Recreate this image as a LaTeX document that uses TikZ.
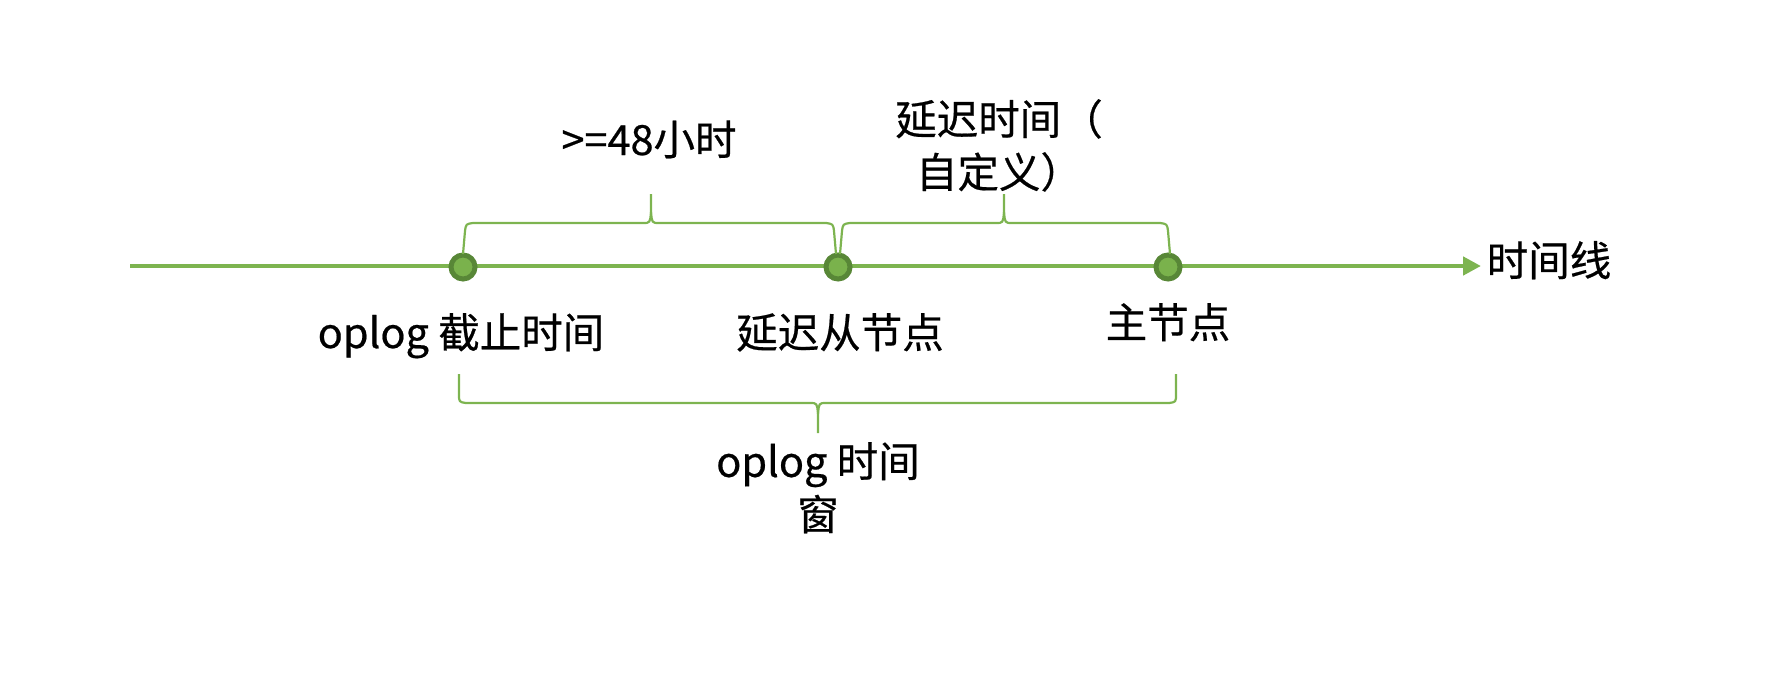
\documentclass[tikz,border=0pt]{standalone}
\usepackage{fontspec}
\setmainfont{Noto Sans CJK SC}[UprightFeatures={FakeBold=0.5}]
\usetikzlibrary{arrows.meta}
\definecolor{lgreen}{RGB}{125,180,80}
\definecolor{dgreen}{RGB}{88,135,55}
\definecolor{fgreen}{RGB}{122,178,76}
\tikzset{
  dot/.style={circle,draw=dgreen,fill=fgreen,line width=5pt,minimum size=24pt,inner sep=0pt},
  lbl/.style={inner sep=0pt,anchor=base,font=\fontsize{41.5}{53}\selectfont,align=center},
  bracepath/.style={draw=lgreen,line width=2.2pt,line join=round},
  timeline/.style={draw=lgreen,line width=4.5pt,-{Triangle[length=18pt,width=18pt]}}
}
\begin{document}
\begin{tikzpicture}[x=1pt,y=-1pt]
\useasboundingbox (0,0) rectangle (1776,682);
% timeline
\coordinate (tstart) at (130,266);
\coordinate (tend) at (1481,266);
\draw[timeline] (tstart) -- (tend);
\node[dot] (d1) at (463,267) {};
\node[dot] (d2) at (838,267) {};
\node[dot] (d3) at (1168,267) {};
% labels
\node[lbl] (tl) at (1549,276) {时间线};
\node[lbl] (l1) at (461,348) {oplog 截止时间};
\node[lbl] (l2) at (840,348) {延迟从节点};
\node[lbl] (l3) at (1168,338) {主节点};
\node[lbl] (u1) at (649,155) {>=48小时};
\node[lbl,anchor=north] (u2) at (999,99) {延迟时间（\\自定义）};
\node[lbl,anchor=north] (b1) at (818,442) {oplog 时间\\窗};
% upper brace 1
\coordinate (a1) at (463,254);
\coordinate (a2) at (836,254);
\coordinate (tip1) at (651,194);
\draw[bracepath] (a1) -- (465,231) .. controls (466,224) .. (473,223)
  -- (643,223) .. controls (650,223) .. (651,212) -- (tip1);
\draw[bracepath] (a2) -- (834,231) .. controls (833,224) .. (826,223)
  -- (659,223) .. controls (652,223) .. (651,212);
% upper brace 2
\coordinate (b1s) at (840,254);
\coordinate (b2s) at (1170,254);
\coordinate (tip2) at (1004,194);
\draw[bracepath] (b1s) -- (842,231) .. controls (843,224) .. (850,223)
  -- (996,223) .. controls (1003,223) .. (1004,212) -- (tip2);
\draw[bracepath] (b2s) -- (1168,231) .. controls (1167,224) .. (1160,223)
  -- (1012,223) .. controls (1005,223) .. (1004,212);
% lower brace
\coordinate (c1) at (459,374);
\coordinate (c2) at (1176,374);
\coordinate (tip3) at (818,433);
\draw[bracepath] (c1) -- (459,394) .. controls (459,402) .. (466,403)
  -- (810,403) .. controls (817,403) .. (818,414) -- (tip3);
\draw[bracepath] (c2) -- (1176,394) .. controls (1176,402) .. (1169,403)
  -- (826,403) .. controls (819,403) .. (818,414);
\end{tikzpicture}
\end{document}
